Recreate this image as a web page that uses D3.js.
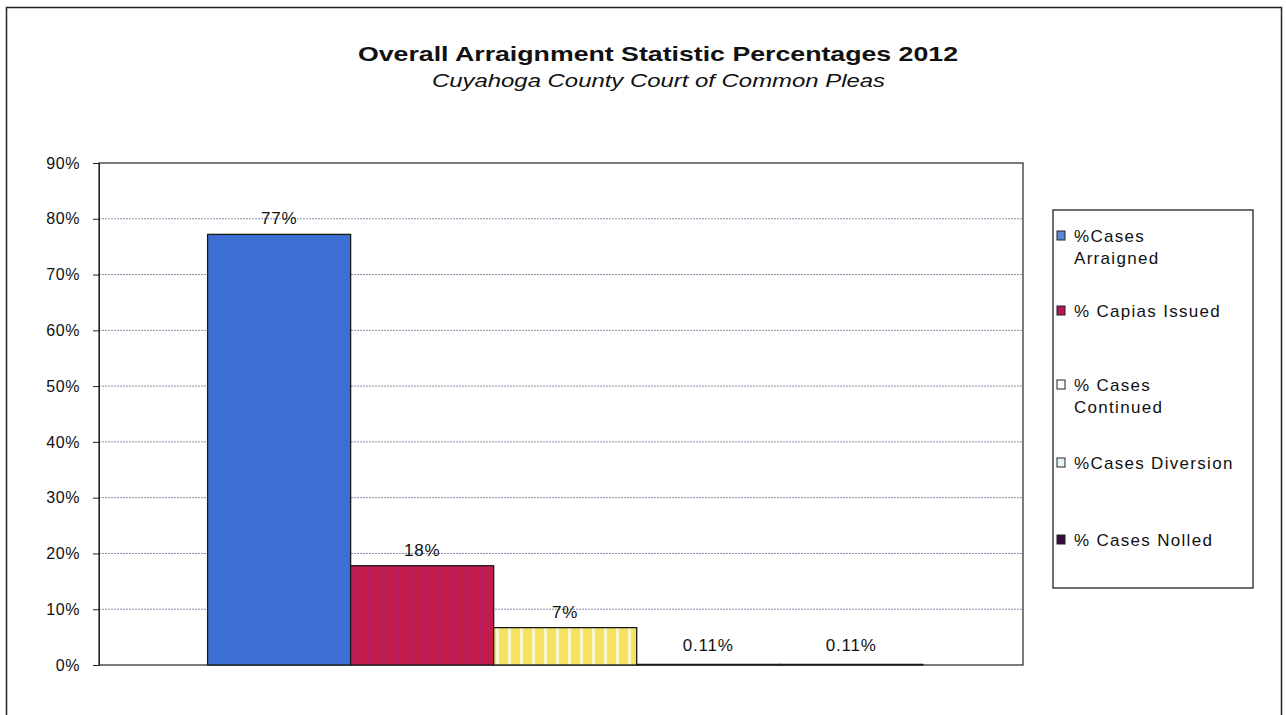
<!DOCTYPE html>
<html>
<head>
<meta charset="utf-8">
<script src="https://cdn.jsdelivr.net/npm/d3@7"></script>
<style>
  body { margin: 0; background: #fff; }
  text { font-family: "Liberation Sans", Arial, sans-serif; fill: #111; }
</style>
</head>
<body>
<svg id="chart" width="1286" height="715"></svg>
<script>
// data
const series = ['%Cases Arraigned', '% Capias Issued', '% Cases Continued', '%Cases Diversion', '% Cases Nolled']
const legendLines = [['%Cases', 'Arraigned'], ['% Capias Issued'], ['% Cases', 'Continued'], ['%Cases Diversion'], ['% Cases Nolled']]
const values = [77.2, 17.8, 6.7, 0.11, 0.11]
const valueLabels = ['77%', '18%', '7%', '0.11%', '0.11%']
const colors = ['#3d6ed4', '#c21c4c', '#f3e264', '#dff3f6', '#3a0c3c']
const legendColors = ['#5b86d8', '#b3185a', '#ffffff', '#e6f6f8', '#3a0c3c']
const yTicks = [0, 10, 20, 30, 40, 50, 60, 70, 80, 90]

const svg = d3.select('#chart')

// outer frame
svg.append('rect')
  .attr('x', 6.5).attr('y', 7.5)
  .attr('width', 1275).attr('height', 720)
  .attr('fill', 'none').attr('stroke', '#222').attr('stroke-width', 1.5)

// title (scan is a bit wide, so stretch to fit)
svg.append('text')
  .attr('x', 358).attr('y', 61)
  .attr('textLength', 600).attr('lengthAdjust', 'spacingAndGlyphs')
  .style('font-size', '21px').style('font-weight', 'bold')
  .text('Overall Arraignment Statistic Percentages 2012')
svg.append('text')
  .attr('x', 432).attr('y', 87)
  .attr('textLength', 453).attr('lengthAdjust', 'spacingAndGlyphs')
  .style('font-size', '18px').style('font-style', 'italic')
  .text('Cuyahoga County Court of Common Pleas')

const plotLeft = 99, plotRight = 1023, plotTop = 163, plotBottom = 665

let y = d3.scaleLinear().domain([0, 90]).range([plotBottom, plotTop])
let outer = d3.scaleBand().domain(['2012']).range([plotLeft, plotRight]).paddingOuter(0.146).align(0.52)
let x = d3.scaleBand().domain(series).range([outer('2012'), outer('2012') + outer.bandwidth()])

// gridlines
svg.append('g').selectAll('line')
  .data(yTicks.filter(d => d > 0 && d < 90))
  .join('line')
  .attr('x1', plotLeft).attr('x2', plotRight)
  .attr('y1', d => y(d)).attr('y2', d => y(d))
  .attr('stroke', '#8a8aa8').attr('stroke-width', 1)
  .attr('stroke-dasharray', '2,1')

// plot frame
svg.append('rect')
  .attr('x', plotLeft).attr('y', plotTop)
  .attr('width', plotRight - plotLeft).attr('height', plotBottom - plotTop)
  .attr('fill', 'none').attr('stroke', '#222').attr('stroke-width', 1.2)

// stripes patterns
const defs = svg.append('defs')
const redPat = defs.append('pattern').attr('id', 'redStripe')
  .attr('patternUnits', 'userSpaceOnUse').attr('width', 14).attr('height', 10)
redPat.append('rect').attr('width', 14).attr('height', 10).attr('fill', '#c21c4c')
redPat.append('rect').attr('x', 3).attr('width', 4).attr('height', 10).attr('fill', '#b61e66').attr('opacity', 0.8)
const yelPat = defs.append('pattern').attr('id', 'yelStripe')
  .attr('patternUnits', 'userSpaceOnUse').attr('width', 12).attr('height', 10)
yelPat.append('rect').attr('width', 12).attr('height', 10).attr('fill', '#f3e264')
yelPat.append('rect').attr('x', 4).attr('width', 3).attr('height', 10).attr('fill', '#fbf6c6')

const fills = [colors[0], 'url(#redStripe)', 'url(#yelStripe)', colors[3], colors[4]]

// bars
svg.append('g').selectAll('rect')
  .data(series)
  .join('rect')
  .attr('x', d => x(d))
  .attr('y', (d, i) => y(values[i]))
  .attr('width', x.bandwidth())
  .attr('height', (d, i) => plotBottom - y(values[i]))
  .attr('fill', (d, i) => fills[i])
  .attr('stroke', '#1a1a1a').attr('stroke-width', 1.3)

// data labels
svg.append('g').selectAll('text')
  .data(series)
  .join('text')
  .attr('x', d => x(d) + x.bandwidth() / 2)
  .attr('y', (d, i) => i < 3 ? y(values[i]) - 10 : plotBottom - 14)
  .attr('text-anchor', 'middle')
  .style('font-size', '17px')
  .style('letter-spacing', '0.8px')
  .text((d, i) => valueLabels[i])

// y axis
let yAxis = d3.axisLeft(y)
  .tickValues(yTicks)
  .tickSize(6)
  .tickFormat(d => d + '%')
let gy = svg.append('g')
  .attr('transform', `translate(${plotLeft}, 0)`)
  .call(yAxis)
gy.select('.domain').attr('stroke', '#222')
gy.selectAll('.tick line').attr('stroke', '#222')
gy.selectAll('.tick text')
  .style('font-size', '16px')
  .style('font-family', '"Liberation Sans", Arial, sans-serif')
  .style('letter-spacing', '0.6px')
  .attr('fill', '#111')
  .attr('x', -19)

// legend
const lg = svg.append('g')
lg.append('rect')
  .attr('x', 1053).attr('y', 210)
  .attr('width', 200).attr('height', 378)
  .attr('fill', '#fff').attr('stroke', '#222').attr('stroke-width', 1.3)
const itemY = [242, 317, 391, 469, 546]
const items = lg.selectAll('g.item')
  .data(series)
  .join('g')
  .attr('class', 'item')
  .attr('transform', (d, i) => `translate(1057, ${itemY[i]})`)
items.append('rect')
  .attr('x', 0).attr('y', -11)
  .attr('width', 8).attr('height', 9)
  .attr('fill', (d, i) => legendColors[i])
  .attr('stroke', '#222').attr('stroke-width', 1)
items.append('text')
  .style('font-size', '17px')
  .style('letter-spacing', '1.3px')
  .selectAll('tspan')
  .data((d, i) => legendLines[i])
  .join('tspan')
  .attr('x', 17)
  .attr('dy', (d, j) => j === 0 ? 0 : 22)
  .text(d => d)
</script>
</body>
</html>
